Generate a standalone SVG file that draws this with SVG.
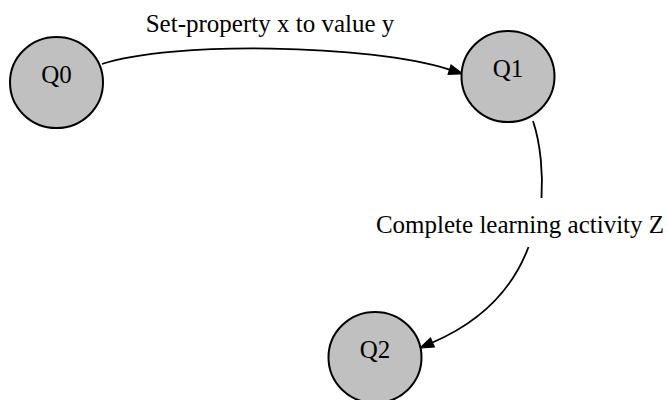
<svg xmlns="http://www.w3.org/2000/svg" width="668" height="400" viewBox="0 0 668 400">
<style>
  .node ellipse { fill: #c0c0c0; stroke: #000; stroke-width: 2; }
  .node text, .lbl { font-family: "Liberation Serif", "Times New Roman", serif; font-size: 25px; fill: #000; }
  .node text { text-anchor: middle; }
  .lbl { text-anchor: middle; }
  .edge { fill: none; stroke: #000; stroke-width: 1.8; }
</style>
<defs>
  <marker id="arrow" markerUnits="userSpaceOnUse" markerWidth="15" markerHeight="11" refX="0" refY="5" orient="auto" overflow="visible">
    <path d="M0,0 L14,5 L0,10 Z" fill="#000" stroke="#000" stroke-width="1"/>
  </marker>
</defs>
<rect width="668" height="400" fill="#fff"/>
<g id="connectors">
  <path class="edge" d="M102,64 C170,41 370,44 449.5,69.6" marker-end="url(#arrow)"/>
  <text class="lbl" x="270" y="32">Set-property x to value y</text>
  <path class="edge" d="M533,121 C541,145 543,175 541.5,198"/>
  <path class="edge" d="M528.5,247 C518,275 494,316 432.5,342.5" marker-end="url(#arrow)"/>
  <text class="lbl" x="520" y="233">Complete learning activity Z</text>
</g>
<g id="Q0" class="node">
  <ellipse cx="56.5" cy="82.5" rx="46.5" ry="45.5"/>
  <text x="56.5" y="83">Q0</text>
</g>
<g id="Q1" class="node">
  <ellipse cx="508" cy="76.5" rx="46.5" ry="45.5"/>
  <text x="508" y="77">Q1</text>
</g>
<g id="Q2" class="node">
  <ellipse cx="375" cy="357.5" rx="46.5" ry="45.5"/>
  <text x="375" y="358">Q2</text>
</g>
</svg>
